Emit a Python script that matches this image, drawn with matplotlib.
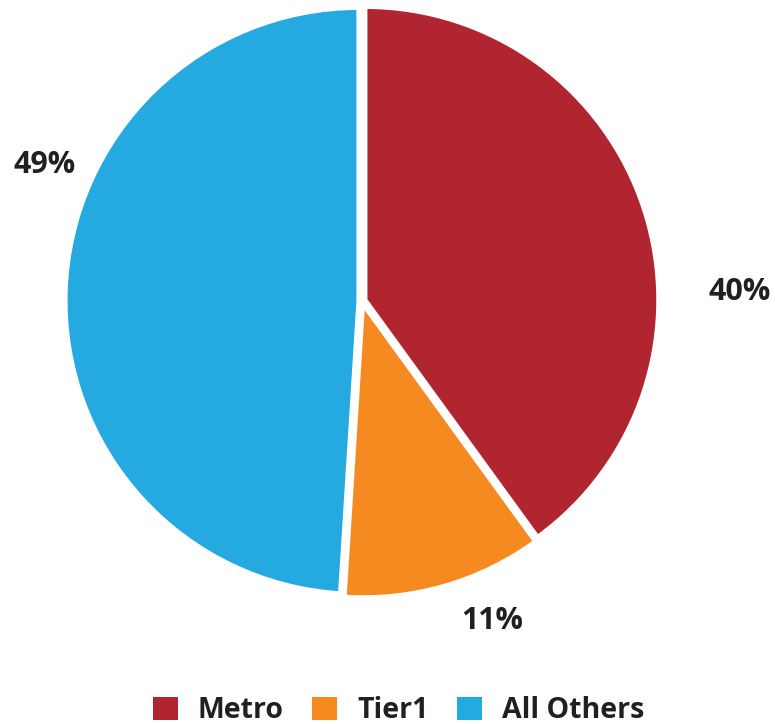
import numpy as np
import matplotlib.pyplot as plt
from matplotlib.patches import Patch

categories = ['Metro', 'Tier1', 'All Others']
shares = [40, 11, 49]
colors = ['#B02530', '#F58A20', '#24A9E1']
# where each percentage label sits: angle (deg) and distance in pie radii
label_angles = [1.4, -67.8, 156.8]
label_dists = [1.29, 1.18, 1.18]

plt.rcParams['font.family'] = ['Open Sans', 'DejaVu Sans']

fig = plt.figure(figsize=(7.75, 7.24), dpi=100)
R = 293
cx, cy = 362, 724 - 301
ax = fig.add_axes([(cx - R) / 775, (cy - R) / 724, 2 * R / 775, 2 * R / 724])

wedges, _ = ax.pie(shares, colors=colors, startangle=90, counterclock=False,
                   explode=[0.012] * 3,
                   wedgeprops=dict(edgecolor='white', linewidth=3))
ax.set_xlim(-1, 1)
ax.set_ylim(-1, 1)
ax.set_aspect('equal')

for s, a, d in zip(shares, label_angles, label_dists):
    ax.text(d * np.cos(np.radians(a)), d * np.sin(np.radians(a)), f'{s}%',
            ha='center', va='center', fontsize=22, fontweight='bold',
            color='#231F20')

handles = [Patch(facecolor=c, edgecolor='none') for c in colors]
leg = fig.legend(handles, categories, loc='lower center', bbox_to_anchor=(0.514, -0.037),
                 ncol=3, frameon=False, handlelength=0.88, handleheight=0.88,
                 handletextpad=0.7, columnspacing=1.0,
                 prop=dict(weight='bold', size=20.5))
for t in leg.get_texts():
    t.set_color('#231F20')

fig.savefig('out.png', dpi=100)
